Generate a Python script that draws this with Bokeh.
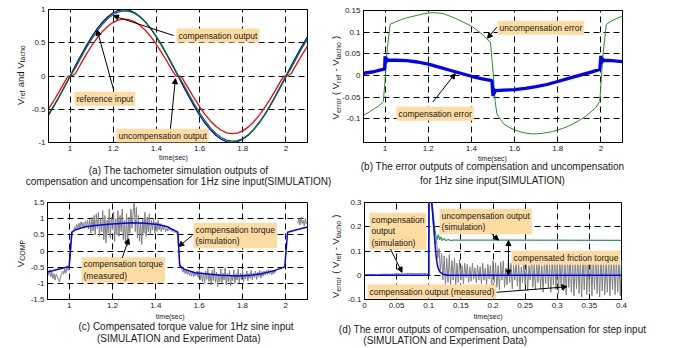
import math
from bokeh.plotting import figure
from bokeh.models import Label, Arrow, NormalHead, FixedTicker, Range1d, GridBox, Column
from bokeh.embed import file_html
from bokeh.resources import INLINE

# ---------------- data ----------------
# (a) tachometer outputs, 1 Hz sine
a_time = [0.9, 0.925, 0.95, 0.975, 1.0, 1.025, 1.05, 1.075, 1.1, 1.125, 1.15, 1.175, 1.2, 1.225,
          1.25, 1.275, 1.3, 1.325, 1.35, 1.375, 1.4, 1.425, 1.45, 1.475, 1.5, 1.525, 1.55, 1.575,
          1.6, 1.625, 1.65, 1.675, 1.7, 1.725, 1.75, 1.775, 1.8, 1.825, 1.85, 1.875, 1.9, 1.925,
          1.95, 1.975, 2.0, 2.025, 2.05, 2.075, 2.1]
a_reference = [-0.588, -0.454, -0.309, -0.156, 0.0, 0.156, 0.309, 0.454, 0.588, 0.707, 0.809, 0.891,
               0.951, 0.988, 1.0, 0.988, 0.951, 0.891, 0.809, 0.707, 0.588, 0.454, 0.309, 0.156, 0.0,
               -0.156, -0.309, -0.454, -0.588, -0.707, -0.809, -0.891, -0.951, -0.988, -1.0, -0.988,
               -0.951, -0.891, -0.809, -0.707, -0.588, -0.454, -0.309, -0.156, 0.0, 0.156, 0.309,
               0.454, 0.588]
a_compensated = [-0.575, -0.445, -0.305, -0.158, -0.01, 0.125, 0.276, 0.422, 0.556, 0.676, 0.779, 0.864,
                 0.925, 0.965, 0.98, 0.972, 0.94, 0.885, 0.807, 0.708, 0.592, 0.46, 0.318, 0.168, 0.012,
                 -0.125, -0.276, -0.42, -0.553, -0.673, -0.777, -0.862, -0.925, -0.965, -0.98, -0.972,
                 -0.94, -0.885, -0.806, -0.707, -0.592, -0.462, -0.32, -0.17, -0.015, 0.125, 0.276,
                 0.422, 0.556]
a_unc_time = [0.9, 0.925, 0.95, 0.975, 0.99, 1.0, 1.01, 1.025, 1.05, 1.075, 1.1, 1.125, 1.15, 1.175,
              1.2, 1.225, 1.25, 1.275, 1.3, 1.325, 1.35, 1.375, 1.4, 1.425, 1.45, 1.475, 1.49, 1.5,
              1.51, 1.52, 1.525, 1.55, 1.575, 1.6, 1.625, 1.65, 1.675, 1.7, 1.725, 1.75, 1.775, 1.8,
              1.825, 1.85, 1.875, 1.9, 1.925, 1.95, 1.975, 1.99, 2.0, 2.01, 2.025, 2.05, 2.075, 2.1]
a_uncompensated = [-0.496, -0.369, -0.232, -0.088, -0.003, 0.0, 0.005, 0.038, 0.185, 0.325, 0.455, 0.571,
                   0.67, 0.749, 0.807, 0.843, 0.856, 0.846, 0.814, 0.759, 0.683, 0.587, 0.474, 0.349,
                   0.214, 0.074, 0.0, 0.0, -0.003, -0.035, -0.061, -0.197, -0.334, -0.462, -0.577,
                   -0.676, -0.756, -0.816, -0.854, -0.868, -0.858, -0.825, -0.769, -0.692, -0.596,
                   -0.484, -0.358, -0.223, -0.081, -0.001, 0.0, 0.005, 0.038, 0.183, 0.322, 0.451]

# (b) error outputs
b_unc_time = [0.9, 0.925, 0.95, 0.975, 0.992, 1.0, 1.01, 1.023, 1.05, 1.075, 1.1, 1.125, 1.15, 1.175,
              1.2, 1.225, 1.25, 1.275, 1.3, 1.325, 1.35, 1.375, 1.4, 1.425, 1.45, 1.475, 1.488, 1.5,
              1.51, 1.518, 1.525, 1.55, 1.575, 1.6, 1.625, 1.65, 1.675, 1.7, 1.725, 1.75, 1.775, 1.8,
              1.825, 1.85, 1.875, 1.9, 1.925, 1.95, 1.975, 1.995, 2.0, 2.01, 2.025, 2.05, 2.075, 2.1]
b_unc_error = [-0.092, -0.085, -0.077, -0.069, -0.06, -0.01, 0.06, 0.118, 0.124, 0.129, 0.133, 0.136,
               0.139, 0.142, 0.144, 0.145, 0.144, 0.142, 0.137, 0.132, 0.126, 0.12, 0.114, 0.105, 0.095,
               0.082, 0.077, 0.01, -0.06, -0.088, -0.095, -0.112, -0.12, -0.126, -0.13, -0.133, -0.135,
               -0.135, -0.134, -0.132, -0.13, -0.126, -0.122, -0.117, -0.111, -0.104, -0.096, -0.086,
               -0.075, -0.06, -0.02, 0.05, 0.118, 0.126, 0.132, 0.137]
b_cmp_time = [0.9, 0.95, 0.99, 0.998, 1.0, 1.003, 1.006, 1.01, 1.05, 1.1, 1.15, 1.2, 1.25, 1.3, 1.35,
              1.4, 1.45, 1.495, 1.5, 1.503, 1.506, 1.51, 1.55, 1.6, 1.65, 1.7, 1.75, 1.8, 1.85, 1.9,
              1.95, 1.995, 2.0, 2.003, 2.006, 2.01, 2.05, 2.1]
b_cmp_error = [0.005, 0.009, 0.014, 0.015, 0.044, 0.028, 0.04, 0.035, 0.035, 0.034, 0.031, 0.026, 0.019,
               0.012, 0.005, -0.002, -0.008, -0.012, -0.048, -0.03, -0.042, -0.035, -0.034, -0.033,
               -0.03, -0.026, -0.021, -0.014, -0.007, 0.0, 0.007, 0.014, 0.045, 0.028, 0.04, 0.035,
               0.034, 0.032]

# (c) compensated torque
c_sim_time = [0.9, 1.0, 1.012, 1.03, 1.07, 1.12, 1.18, 1.29, 1.35, 1.41, 1.45, 1.49, 1.502, 1.51, 1.53,
              1.58, 1.65, 1.7, 1.78, 1.85, 1.89, 1.95, 1.995, 2.008, 2.05, 2.1]
c_sim_torque = [-0.65, -0.48, 0.58, 0.66, 0.74, 0.79, 0.83, 0.87, 0.86, 0.82, 0.76, 0.62, 0.58, -0.45,
                -0.56, -0.67, -0.72, -0.75, -0.77, -0.74, -0.7, -0.6, -0.49, 0.58, 0.66, 0.74]
c_meas_time = [
    0.900, 0.905, 0.910, 0.915, 0.920, 0.925, 0.930, 0.935, 0.940, 0.945,
    0.950, 0.955, 0.960, 0.965, 0.970, 0.975, 0.980, 0.985, 0.990, 0.995,
    1.000, 1.005, 1.010, 1.015, 1.020, 1.025, 1.030, 1.035, 1.040, 1.045,
    1.050, 1.055, 1.060, 1.065, 1.070, 1.075, 1.080, 1.085, 1.090, 1.095,
    1.100, 1.105, 1.110, 1.115, 1.120, 1.125, 1.130, 1.135, 1.140, 1.145,
    1.150, 1.155, 1.160, 1.165, 1.170, 1.175, 1.180, 1.185, 1.190, 1.195,
    1.200, 1.205, 1.210, 1.215, 1.220, 1.225, 1.230, 1.235, 1.240, 1.245,
    1.250, 1.255, 1.260, 1.265, 1.270, 1.275, 1.280, 1.285, 1.290, 1.295,
    1.300, 1.305, 1.310, 1.315, 1.320, 1.325, 1.330, 1.335, 1.340, 1.345,
    1.350, 1.355, 1.360, 1.365, 1.370, 1.375, 1.380, 1.385, 1.390, 1.395,
    1.400, 1.405, 1.410, 1.415, 1.420, 1.425, 1.430, 1.435, 1.440, 1.445,
    1.450, 1.455, 1.460, 1.465, 1.470, 1.475, 1.480, 1.485, 1.490, 1.495,
    1.500, 1.505, 1.510, 1.515, 1.520, 1.525, 1.530, 1.535, 1.540, 1.545,
    1.550, 1.555, 1.560, 1.565, 1.570, 1.575, 1.580, 1.585, 1.590, 1.595,
    1.600, 1.605, 1.610, 1.615, 1.620, 1.625, 1.630, 1.635, 1.640, 1.645,
    1.650, 1.655, 1.660, 1.665, 1.670, 1.675, 1.680, 1.685, 1.690, 1.695,
    1.700, 1.705, 1.710, 1.715, 1.720, 1.725, 1.730, 1.735, 1.740, 1.745,
    1.750, 1.755, 1.760, 1.765, 1.770, 1.775, 1.780, 1.785, 1.790, 1.795,
    1.800, 1.805, 1.810, 1.815, 1.820, 1.825, 1.830, 1.835, 1.840, 1.845,
    1.850, 1.855, 1.860, 1.865, 1.870, 1.875, 1.880, 1.885, 1.890, 1.895,
    1.900, 1.905, 1.910, 1.915, 1.920, 1.925, 1.930, 1.935, 1.940, 1.945,
    1.950, 1.955]
c_meas_torque = [
    -0.62, -0.75, -0.58, -0.80, -0.65, -0.85, -0.70, -0.90, -0.72, -0.78,
    -0.88, -0.95, -0.80, -0.70, -0.62, -0.72, -0.55, -0.68, -0.52, -0.60,
    -0.50, -0.20, 0.30, 0.55, 0.62, 0.75, 0.66, 0.82, 0.70, 0.86,
    0.72, 0.90, 0.76, 0.88, 0.70, 0.92, 0.74, 0.95, 0.68, 0.98,
    0.55, 1.05, 0.62, 1.10, 0.50, 1.15, 0.70, 1.20, 0.45, 1.00,
    0.60, 1.25, 0.35, 1.10, 0.25, 0.95, 0.55, 1.30, 0.40, 1.05,
    0.65, 1.20, 0.30, 1.00, 0.50, 1.25, 0.45, 1.10, 0.60, 1.30,
    0.35, 0.95, 0.20, 1.15, 0.15, 1.05, 0.55, 1.30, 0.70, 1.20,
    1.50, 0.60, 1.35, 0.40, 1.10, 0.30, 0.90, 0.20, 1.00, 0.55,
    1.20, 0.45, 1.05, 0.60, 1.15, 0.50, 0.95, 0.65, 1.00, 0.55,
    0.90, 0.60, 0.95, 0.65, 0.85, 0.60, 0.80, 0.65, 0.78, 0.60,
    0.72, 0.62, 0.75, 0.64, 0.70, 0.60, 0.68, 0.58, 0.60, 0.55,
    0.50, 0.10, -0.35, -0.50, -0.58, -0.66, -0.55, -0.70, -0.60, -0.72,
    -0.62, -0.75, -0.65, -0.78, -0.62, -0.80, -0.66, -0.76, -0.62, -0.82,
    -0.60, -0.90, -0.65, -0.95, -0.70, -1.00, -0.62, -0.88, -0.55, -0.95,
    -0.70, -1.05, -0.60, -0.92, -0.50, -0.98, -0.65, -1.10, -0.72, -0.95,
    -0.55, -1.00, -0.68, -0.90, -0.52, -1.05, -0.70, -0.95, -0.60, -1.08,
    -0.75, -0.92, -0.58, -1.00, -0.70, -0.90, -0.55, -0.98, -0.68, -0.88,
    -0.60, -0.95, -0.72, -0.86, -0.62, -0.92, -0.70, -0.85, -0.60, -0.90,
    -0.68, -0.82, -0.62, -0.88, -0.66, -0.80, -0.60, -0.84, -0.64, -0.78,
    -0.62, -0.75, -0.60, -0.72, -0.58, -0.70, -0.60, -0.74, -0.62, -0.70,
    -0.60, -0.66]
c_meas2_time = [2.055, 2.06, 2.065, 2.07, 2.075, 2.08, 2.085, 2.09, 2.095, 2.1]
c_meas2_torque = [0.85, 1.0, 0.8, 1.05, 0.85, 0.95, 0.78, 1.0, 0.85, 0.92]

# (d) step input
d_cmp_time = [0.0, 0.1, 0.1003, 0.1035, 0.106, 0.108, 0.11, 0.112, 0.114, 0.117, 0.122, 0.13, 0.4]
d_cmp_sim = [0.0, 0.0, 0.36, 0.33, 0.26, 0.19, 0.12, 0.067, 0.035, 0.015, 0.004, 0.0, 0.0]
d_unc_time = [0.0, 0.1, 0.1005, 0.104, 0.107, 0.109, 0.111, 0.113, 0.115, 0.117, 0.119, 0.121, 0.124,
              0.127, 0.13, 0.134, 0.138, 0.4]
d_unc_sim = [0.0, 0.0, 0.36, 0.33, 0.25, 0.2, 0.163, 0.148, 0.168, 0.146, 0.158, 0.143, 0.152, 0.142,
             0.148, 0.143, 0.145, 0.144]
d_meas_time = [
    0.0, 0.01, 0.02, 0.03, 0.04, 0.05, 0.06, 0.07, 0.08, 0.09, 0.098, 0.1, 0.1002,
    0.104, 0.106, 0.108, 0.110, 0.112, 0.114, 0.116, 0.118,
    0.120, 0.122, 0.124, 0.126, 0.128, 0.130, 0.132, 0.134, 0.136, 0.138,
    0.140, 0.142, 0.144, 0.146, 0.148, 0.150, 0.152, 0.154, 0.156, 0.158,
    0.160, 0.162, 0.164, 0.166, 0.168, 0.170, 0.172, 0.174, 0.176, 0.178,
    0.180, 0.182, 0.184, 0.186, 0.188, 0.190, 0.192, 0.194, 0.196, 0.198,
    0.200, 0.202, 0.204, 0.206, 0.208, 0.210, 0.212, 0.214, 0.216, 0.218,
    0.220, 0.222, 0.224, 0.226, 0.228, 0.230, 0.232, 0.234, 0.236, 0.238,
    0.240, 0.242, 0.244, 0.246, 0.248, 0.250, 0.252, 0.254, 0.256, 0.258,
    0.260, 0.262, 0.264, 0.266, 0.268, 0.270, 0.272, 0.274, 0.276, 0.278,
    0.280, 0.282, 0.284, 0.286, 0.288, 0.290, 0.292, 0.294, 0.296, 0.298,
    0.300, 0.302, 0.304, 0.306, 0.308, 0.310, 0.312, 0.314, 0.316, 0.318,
    0.320, 0.322, 0.324, 0.326, 0.328, 0.330, 0.332, 0.334, 0.336, 0.338,
    0.340, 0.342, 0.344, 0.346, 0.348, 0.350, 0.352, 0.354, 0.356, 0.358,
    0.360, 0.362, 0.364, 0.366, 0.368, 0.370, 0.372, 0.374, 0.376, 0.378,
    0.380, 0.382, 0.384, 0.386, 0.388, 0.390, 0.392, 0.394, 0.396, 0.398,
    0.400]
d_meas = [
    0.0, 0.003, 0.0, 0.005, 0.004, 0.006, 0.005, 0.008, 0.006, 0.008, 0.006, 0.006, 0.36,
    0.32, 0.24, 0.19, 0.13, 0.15, 0.07, 0.11, 0.02,
    0.09, -0.02, 0.08, -0.04, 0.07, -0.03, 0.085, -0.045, 0.06, -0.02,
    0.07, -0.04, 0.05, -0.03, 0.065, -0.02, 0.04, -0.035, 0.05, -0.01,
    0.045, -0.03, 0.035, -0.025, 0.05, -0.015, 0.03, -0.03, 0.04, -0.02,
    0.035, -0.035, 0.05, -0.02, 0.03, -0.04, 0.045, -0.015, 0.04, -0.045,
    0.06, -0.03, 0.05, -0.05, 0.04, -0.06, 0.055, -0.02, 0.06, -0.05,
    0.03, -0.04, 0.065, -0.03, 0.05, -0.055, 0.04, -0.02, 0.06, -0.045,
    0.05, -0.06, 0.035, -0.03, 0.065, -0.04, 0.05, -0.065, 0.04, -0.02,
    0.07, -0.05, 0.045, -0.06, 0.055, -0.03, 0.07, -0.055, 0.04, -0.07,
    0.06, -0.035, 0.075, -0.05, 0.05, -0.07, 0.065, -0.04, 0.08, -0.06,
    0.055, -0.075, 0.07, -0.045, 0.08, -0.065, 0.05, -0.08, 0.075, -0.05,
    0.085, -0.07, 0.06, -0.085, 0.07, -0.055, 0.08, -0.075, 0.065, -0.09,
    0.075, -0.06, 0.085, -0.08, 0.06, -0.07, 0.08, -0.085, 0.07, -0.06,
    0.085, -0.075, 0.065, -0.09, 0.08, -0.065, 0.075, -0.08, 0.06, -0.07,
    0.085, -0.085, 0.07, -0.06, 0.08, -0.08, 0.065, -0.07, 0.075, -0.085,
    0.06]

# ticks
sine_xticks = [1, 1.2, 1.4, 1.6, 1.8, 2]
sine_xlabels = ["1", "1.2", "1.4", "1.6", "1.8", "2"]
a_yticks = [-1, -0.5, 0, 0.5, 1]
a_ylabels = ["-1", "-0.5", "0", "0.5", "1"]
b_yticks = [-0.1, -0.05, 0, 0.05, 0.1, 0.15]
b_ylabels = ["-0.1", "-0.05", "0", "0.05", "0.1", "0.15"]
c_yticks = [-1.5, -1, -0.5, 0, 0.5, 1, 1.5]
c_ylabels = ["-1.5", "-1", "-0.5", "0", "0.5", "1", "1.5"]
d_xticks = [0, 0.05, 0.1, 0.15, 0.2, 0.25, 0.3, 0.35, 0.4]
d_xlabels = ["0", "0.05", "0.1", "0.15", "0.2", "0.25", "0.3", "0.35", "0.4"]
d_yticks = [-0.1, 0, 0.1, 0.2, 0.3]
d_ylabels = ["-0.1", "0", "0.1", "0.2", "0.3"]

# ---------------- styling helpers ----------------
W, H = 673, 348
FONT = "Liberation Sans"
BOX = "#fcdca2"
TXT = "#1a1a1a"
CHARW = {"V": .667, " ": .278, "a": .556, "n": .556, "d": .556, "r": .333, "e": .556, "f": .278,
         "t": .278, "c": .5, "h": .556, "o": .556, "(": .333, ")": .333, "-": .333, "C": .722,
         "O": .778, "M": .833, "P": .667}


def panel(xr, yr, left, top, fw, fh, xt, xl, yt, yl, base=False):
    p = figure(width=W, height=H, x_range=Range1d(*xr), y_range=Range1d(*yr),
               output_backend="svg", toolbar_location=None,
               min_border_left=left, min_border_right=W - left - fw,
               min_border_top=top, min_border_bottom=H - top - fh)
    p.border_fill_color = "white" if base else None
    p.background_fill_color = "white"
    p.outline_line_color = "black"
    p.outline_line_alpha = 1.0
    p.outline_line_width = 1
    xtk = FixedTicker(ticks=xt)
    ytk = FixedTicker(ticks=yt)
    p.xaxis.ticker = xtk
    p.yaxis.ticker = ytk
    p.xgrid.ticker = xtk
    p.ygrid.ticker = ytk
    p.xaxis.major_label_overrides = dict(zip(xt, xl))
    p.yaxis.major_label_overrides = dict(zip(yt, yl))
    for ax in p.xaxis + p.yaxis:
        ax.major_tick_in = 3
        ax.major_tick_out = 0
        ax.minor_tick_line_color = None
        ax.axis_line_color = "black"
        ax.major_tick_line_color = "black"
        ax.major_label_text_font = FONT
        ax.major_label_text_font_size = "8px"
        ax.major_label_text_color = TXT
        ax.major_label_standoff = 3
    p.grid.grid_line_color = "black"
    p.grid.grid_line_alpha = 1.0
    p.grid.grid_line_dash = "6 4"
    p.grid.grid_line_width = 1
    return p


def box(p, x, y, text):
    p.add_layout(Label(x=x, y=y, text=text, text_font=FONT, text_font_size="8.5px",
                       text_align="left", text_baseline="middle", text_color=TXT,
                       background_fill_color=BOX, padding=2, text_line_height=1.15))


def arrow(p, x0, y0, x1, y1, both=False):
    head = lambda: NormalHead(size=5, line_color="black", fill_color="black", line_width=1)
    p.add_layout(Arrow(start=head() if both else None, end=head(), x_start=x0, y_start=y0,
                       x_end=x1, y_end=y1, line_color="black", line_width=1))


# ---------------- (a) ----------------
pa = panel((0.9, 2.1), (-1, 1), 48, 9, 259, 133, sine_xticks, sine_xlabels, a_yticks, a_ylabels, base=True)
pa.line(a_unc_time, a_uncompensated, line_color="#ff0000", line_width=1.3)
pa.line(a_time, a_reference, line_color="#0000ff", line_width=1.3)
pa.line(a_time, a_compensated, line_color="#007a1a", line_width=1.3)
box(pa, 1.493, 0.609, "compensation output")
arrow(pa, 1.479, 0.609, 1.201, 0.905)
box(pa, 1.0205, -0.343, "reference input")
arrow(pa, 1.2026, -0.218, 1.1256, 0.69)
box(pa, 1.215, -0.9, "uncompensation output")
arrow(pa, 1.465, -0.794, 1.488, -0.04)

# ---------------- (b) ----------------
pb = panel((0.9, 2.1), (-0.155, 0.15), 363, 10, 259, 132, sine_xticks, sine_xlabels, b_yticks, b_ylabels)
pb.line(b_unc_time, b_unc_error, line_color="#1e961e", line_width=1)
pb.line(b_cmp_time, b_cmp_error, line_color="#0000ff", line_width=3.3)
box(pb, 1.521, 0.110, "uncompensation error")
arrow(pb, 1.5176, 0.1115, 1.4745, 0.086)
box(pb, 1.053, -0.0884, "compensation error")
arrow(pb, 1.221, -0.0616, 1.325, 0.004)

# ---------------- (c) ----------------
pc = panel((0.9, 2.1), (-1.5, 1.5), 47, 202, 260, 97, sine_xticks, sine_xlabels, c_yticks, c_ylabels)
pc.line(c_meas_time, c_meas_torque, line_color="#808080", line_width=1)
pc.line(c_meas2_time, c_meas2_torque, line_color="#808080", line_width=1)
pc.line(c_sim_time, c_sim_torque, line_color="#0000ff", line_width=1.5)
box(pc, 1.574, 0.479, "compensation torque\n(simulation)")
arrow(pc, 1.568, 0.479, 1.506, 0.139)
box(pc, 1.057, -0.588, "compensation torque\n(measured)")
arrow(pc, 1.245, -0.21, 1.275, 0.377)

# ---------------- (d) ----------------
pd_ = panel((0, 0.4), (-0.1, 0.3), 364, 202, 257, 97, d_xticks, d_xlabels, d_yticks, d_ylabels)
pd_.line(d_meas_time, d_meas, line_color="#808080", line_width=1)
pd_.line(d_unc_time, d_unc_sim, line_color="#2e9a62", line_width=1.2)
pd_.line(d_cmp_time, d_cmp_sim, line_color="#0000ff", line_width=1.5)
box(pd_, 0.0078, 0.181, "compensation\noutput\n(simulation)")
arrow(pd_, 0.0405, 0.108, 0.0584, 0.012)
box(pd_, 0.1167, 0.222, "uncompensation output\n(simulation)")
arrow(pd_, 0.198, 0.17, 0.2086, 0.145)
box(pd_, 0.2288, 0.0724, "compensated friction torque")
arrow(pd_, 0.2241, 0.143, 0.2241, 0.001, both=True)
box(pd_, 0.0047, -0.0675, "compensation output (measured)")
arrow(pd_, 0.2054, -0.0703, 0.315, -0.0475)

# ---------------- text layer (axis titles and captions, page pixel coordinates) ----------------
pt = figure(width=W, height=H, x_range=Range1d(0, W), y_range=Range1d(H, 0),
            output_backend="svg", toolbar_location=None, x_axis_type=None, y_axis_type=None,
            min_border=0, min_border_left=0, min_border_right=0, min_border_top=0, min_border_bottom=0)
pt.border_fill_color = None
pt.background_fill_color = None
pt.outline_line_color = None


def ptext(x, y, text, size):
    pt.add_layout(Label(x=x, y=y, text=text, text_font=FONT, text_font_size=f"{size}px",
                        text_align="center", text_baseline="middle", text_color=TXT))


def vlabel(x, y, pieces):
    """vertical (rotated) label built of normal and subscript pieces, read bottom to top"""
    for text, sub in pieces:
        size = 7 if sub else 9.5
        body = text.lstrip(" ")
        lead = (len(text) - len(body)) * CHARW[" "] * size
        pt.add_layout(Label(x=x + (2.5 if sub else 0), y=y - lead, text=body, angle=math.pi / 2,
                            text_font=FONT, text_font_size=f"{size}px", text_align="left",
                            text_baseline="alphabetic", text_color=TXT))
        y -= lead + sum(CHARW[ch] for ch in body) * size + (0.6 if sub else 0)


ERR_PIECES = [("V", False), ("error", True), (" ( V", False), ("ref", True), (" - V", False),
              ("tacho", True), (" )", False)]

vlabel(19.5, 104.5, [("V", False), ("ref", True), (" and V", False), ("tacho", True)])
ptext(173, 156.7, "time(sec)", 7)
ptext(178, 170, "(a) The tachometer simulation outputs of", 10)
ptext(178, 180.5, "compensation and uncompensation for 1Hz sine input(SIMULATION)", 10)

vlabel(335, 118.9, ERR_PIECES)
ptext(492, 158.3, "time(sec)", 7)
ptext(492, 166, "(b) The error outputs of compensation and uncompensation", 10)
ptext(492, 179.5, "for 1Hz sine input(SIMULATION)", 10)

vlabel(19.5, 266.7, [("V", False), ("COMP", True)])
ptext(169.7, 315.7, "time(sec)", 7)
ptext(185.5, 326, "(c) Compensated torque value for 1Hz sine input", 10)
ptext(178.3, 338.3, "(SIMULATION and Experiment Data)", 10)

vlabel(335, 297.6, ERR_PIECES)
ptext(487.7, 315.7, "time(sec)", 7)
ptext(492, 329.3, "(d) The error outputs of compensation, uncompensation for step input", 10)
ptext(444.7, 340, "(SIMULATION and Experiment Data)", 10)

# each panel is a full-window transparent layer; wrapping keeps the grid from aligning their borders
layers = [Column(children=[p], width=W, height=H) for p in (pa, pb, pc, pd_, pt)]
layout = GridBox(children=[(layer, 0, 0) for layer in layers])

open("out.html", "w").write(file_html(layout, INLINE))
